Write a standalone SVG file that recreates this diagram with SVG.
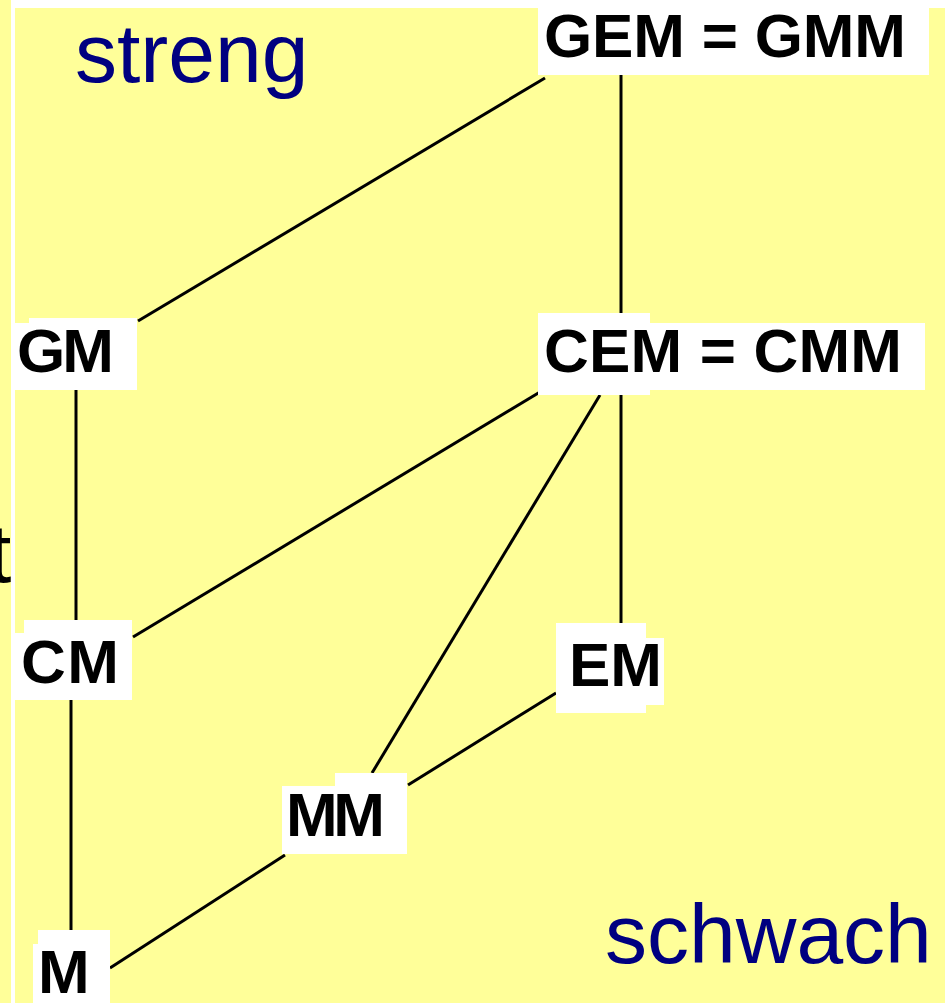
<svg xmlns="http://www.w3.org/2000/svg" width="945" height="1003" viewBox="0 0 945 1003">
<style>
.lbl{font-family:"Liberation Sans",Arial,sans-serif;font-weight:bold;font-size:62px;fill:#000}
.big{font-family:"Liberation Sans",Arial,sans-serif;font-size:84px;fill:#000080}
.box{fill:#fff}
.edge{stroke:#000;stroke-width:3;fill:none}
</style>
<rect x="0" y="0" width="945" height="1003" fill="#FFFF99"/>
<rect x="15" y="0" width="930" height="8" fill="#fff"/>
<text x="-12" y="582" class="big" style="fill:#000">t</text>
<rect x="11" y="0" width="4" height="1003" fill="#fff"/>
<text x="75" y="82" class="big">streng</text>
<text x="605" y="963" class="big">schwach</text>
<g id="connectors">
<line class="edge" x1="545" y1="78" x2="138" y2="321"/>
<line class="edge" x1="621" y1="75" x2="621" y2="313"/>
<line class="edge" x1="76" y1="390" x2="76" y2="620"/>
<line class="edge" x1="540" y1="392" x2="133" y2="637"/>
<line class="edge" x1="600" y1="395" x2="372" y2="773"/>
<line class="edge" x1="621" y1="395" x2="621" y2="623"/>
<line class="edge" x1="71" y1="700" x2="71" y2="930"/>
<line class="edge" x1="556" y1="693" x2="408" y2="785"/>
<line class="edge" x1="285" y1="855" x2="110" y2="968"/>
</g>
<g id="GEM">
<rect class="box" x="538" y="0" width="391" height="75"/>
<text class="lbl" x="544" y="57" textLength="362" lengthAdjust="spacing">GEM = GMM</text>
</g>
<g id="GM">
<rect class="box" x="15" y="323" width="14" height="67"/>
<rect class="box" x="29" y="318" width="108" height="72"/>
<text class="lbl" x="17" y="372" textLength="97" lengthAdjust="spacing">GM</text>
</g>
<g id="CEM">
<rect class="box" x="538" y="323" width="387" height="67"/>
<rect class="box" x="538" y="313" width="112" height="82"/>
<text class="lbl" x="544" y="372" textLength="358" lengthAdjust="spacing">CEM = CMM</text>
</g>
<g id="CM">
<rect class="box" x="15" y="633" width="117" height="67"/>
<rect class="box" x="24" y="620" width="108" height="80"/>
<text class="lbl" x="21" y="683" textLength="98" lengthAdjust="spacing">CM</text>
</g>
<g id="EM">
<rect class="box" x="556" y="623" width="90" height="90"/>
<rect class="box" x="556" y="638" width="108" height="67"/>
<text class="lbl" x="569" y="686" textLength="93" lengthAdjust="spacing">EM</text>
</g>
<g id="MM">
<rect class="box" x="282" y="786" width="125" height="68"/>
<rect class="box" x="335" y="773" width="72" height="81"/>
<text class="lbl" x="286" y="836" textLength="99" lengthAdjust="spacing">MM</text>
</g>
<g id="M">
<rect class="box" x="33" y="944" width="77" height="59"/>
<rect class="box" x="38" y="930" width="72" height="73"/>
<text class="lbl" x="38" y="993">M</text>
</g>
</svg>
